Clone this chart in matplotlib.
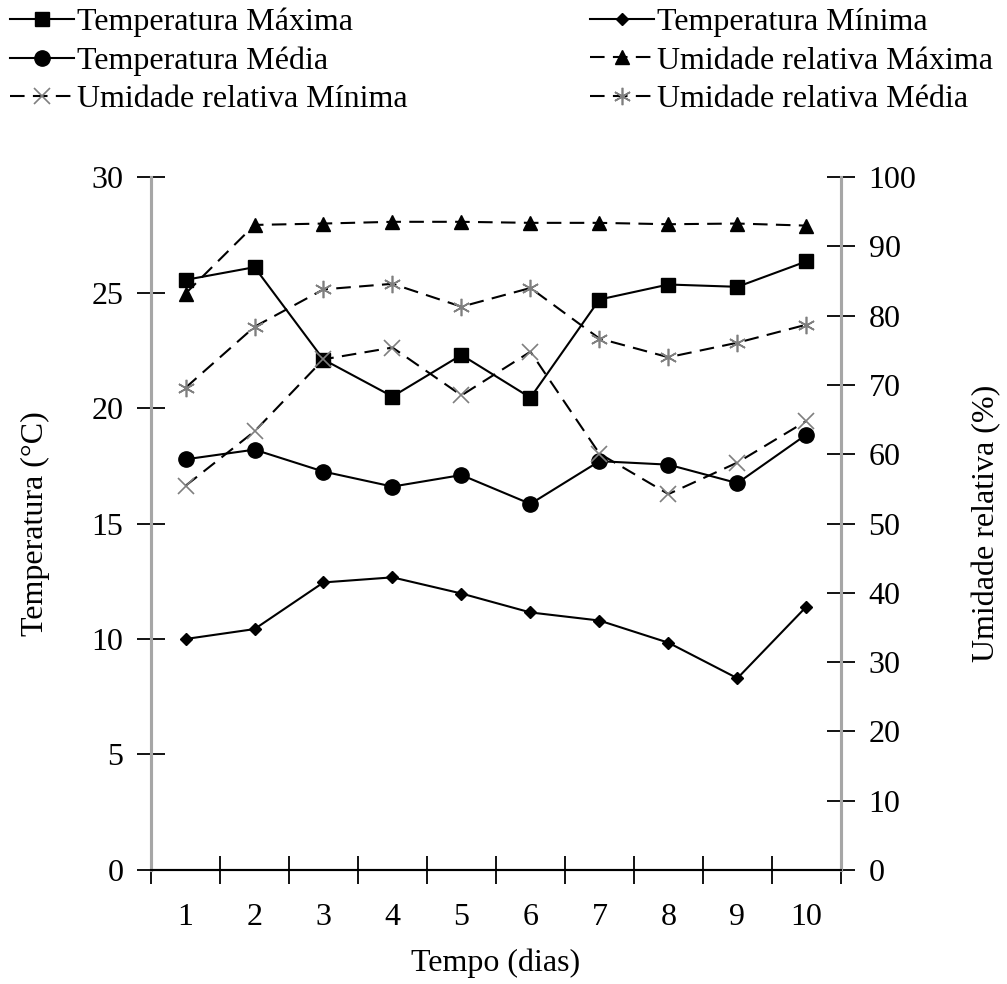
import matplotlib
matplotlib.use("Agg")
import matplotlib.pyplot as plt

plt.rcParams["font.family"] = ["Liberation Serif", "DejaVu Serif"]

# ---------------------------------------------------------------------
# Data
# ---------------------------------------------------------------------
dias = [1, 2, 3, 4, 5, 6, 7, 8, 9, 10]

temp_max = [25.55, 26.1, 22.1, 20.5, 22.3, 20.45, 24.7, 25.35, 25.25, 26.35]
temp_min = [10.0, 10.43, 12.45, 12.67, 11.97, 11.15, 10.8, 9.84, 8.3, 11.4]
temp_med = [17.78, 18.2, 17.25, 16.6, 17.1, 15.85, 17.7, 17.55, 16.75, 18.85]

ur_max = [83.2, 93.1, 93.3, 93.55, 93.55, 93.4, 93.4, 93.2, 93.3, 93.0]
ur_min = [55.45, 63.3, 73.7, 75.4, 68.5, 74.8, 60.1, 54.25, 58.8, 64.8]
ur_med = [69.6, 78.4, 83.8, 84.6, 81.3, 84.0, 76.7, 74.0, 76.1, 78.7]

left_ticks = [0, 5, 10, 15, 20, 25, 30]
right_ticks = [0, 10, 20, 30, 40, 50, 60, 70, 80, 90, 100]

FS = 23
GRAY = "#a6a6a6"
MGRAY = "#7f7f7f"
DASH = (0, (7, 4))

fig = plt.figure(figsize=(10.07, 9.84), dpi=100)
ax = fig.add_axes([0.150, 0.1159, 0.685, 0.7041])
ax2 = ax.twinx()

# temperature series (left axis)
l_tmax, = ax.plot(dias, temp_max, color="black", lw=1.5, marker="s", ms=10.5,
                  label="Temperatura Máxima", zorder=5)
l_tmin, = ax.plot(dias, temp_min, color="black", lw=1.5, marker="D", ms=6.5,
                  label="Temperatura Mínima", zorder=5)
l_tmed, = ax.plot(dias, temp_med, color="black", lw=1.5, marker="o", ms=11,
                  label="Temperatura Média", zorder=5)

# humidity series (right axis)
l_umax, = ax2.plot(dias, ur_max, color="black", lw=1.5, ls=DASH, marker="^",
                   ms=9.5, label="Umidade relativa Máxima")
l_umin, = ax2.plot(dias, ur_min, color="black", lw=1.5, ls=DASH, marker="x",
                   ms=11.5, mec=MGRAY, mew=1.2, label="Umidade relativa Mínima")
l_umed, = ax2.plot(dias, ur_med, color="black", lw=1.5, ls=DASH,
                   marker=(6, 2, 0), ms=12.5, mec=MGRAY, mew=1.2,
                   label="Umidade relativa Média")

# axes styling
ax.set_xlim(0.5, 10.5)
ax.set_ylim(0, 30)
ax2.set_ylim(0, 100)
ax.set_yticks(left_ticks)
ax2.set_yticks(right_ticks)

ax.set_xticks([i + 0.5 for i in range(0, 11)])
ax.set_xticklabels([])
ax.set_xticks(dias, minor=True)
ax.set_xticklabels([str(d) for d in dias], minor=True, fontsize=FS)
ax.tick_params(axis="x", which="major", direction="inout", length=20,
               width=1.3, color="black")
ax.tick_params(axis="x", which="minor", length=0, pad=24)
ax.tick_params(axis="y", direction="inout", length=20, width=1.3,
               color="black", labelsize=FS, pad=10)
ax2.tick_params(axis="y", direction="inout", length=20, width=1.3,
                color="black", labelsize=FS, pad=10)

for a in (ax, ax2):
    a.spines["top"].set_visible(False)
    a.spines["left"].set_color(GRAY)
    a.spines["right"].set_color(GRAY)
    a.spines["left"].set_linewidth(2.2)
    a.spines["right"].set_linewidth(2.2)
    a.spines["bottom"].set_linewidth(1.5)
    a.patch.set_visible(False)

ax.set_xlabel("Tempo (dias)", fontsize=FS, labelpad=12)
ax.set_ylabel("Temperatura (°C)", fontsize=FS, labelpad=30)
ax2.set_ylabel("Umidade relativa (%)", fontsize=FS, rotation=90,
               labelpad=40)

# legends: two columns at the top
leg_kw = dict(frameon=False, fontsize=FS, handlelength=2.0,
              handletextpad=0.1, labelspacing=0.28, borderaxespad=0,
              borderpad=0)
leg1 = fig.legend(handles=[l_tmax, l_tmed, l_umin], loc="upper left",
                  bbox_to_anchor=(0.010, 0.992), **leg_kw)
leg2 = fig.legend(handles=[l_tmin, l_umax, l_umed], loc="upper left",
                  bbox_to_anchor=(0.586, 0.992), **leg_kw)

fig.savefig("out.png", dpi=100)
